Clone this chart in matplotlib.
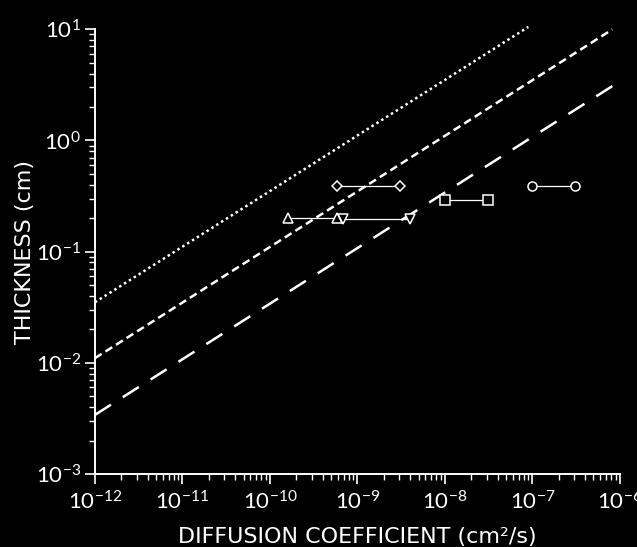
import matplotlib
matplotlib.use('Agg')
import matplotlib.pyplot as plt
import numpy as np
from matplotlib.ticker import LogLocator, NullFormatter, FuncFormatter

# ─── Datos ───────────────────────────────────────────────────────────────────
# rectas de penetracion  L = C * sqrt(D / 1e-12)
LINE_COEF  = [0.035, 0.011, 0.0034]
LINE_DEND  = [9.0e-8, 8.2e-7, 8.2e-7]
LINE_STYLE = [(0, (1, 1.3)), (0, (3.2, 1.8)), (0, (7.6, 5.6))]

# pares medidos (D_min, D_max, espesor, marcador)
PAIR_DLO   = [5.9e-10, 1.0e-7, 1.0e-8, 1.6e-10, 6.9e-10]
PAIR_DHI   = [3.1e-9,  3.1e-7, 3.1e-8, 5.9e-10, 4.0e-9]
PAIR_THICK = [0.39,    0.39,   0.29,   0.20,    0.195]
PAIR_MARK  = ['D',     'o',    's',    '^',     'v']

FG = 'white'
BG = 'black'

plt.rcParams['mathtext.fontset'] = 'custom'
plt.rcParams['mathtext.rm'] = 'Lato'
plt.rcParams['mathtext.it'] = 'Lato'
plt.rcParams['mathtext.bf'] = 'Lato'

fig = plt.figure(figsize=(6.37, 5.47), dpi=100, facecolor=BG)
ax = fig.add_axes([0.149, 0.1335, 0.824, 0.813], facecolor=BG)
ax.set_xscale('log')
ax.set_yscale('log')
ax.set_xlim(1e-12, 1e-6)
ax.set_ylim(1e-3, 1e1)

# ── rectas ───────────────────────────────────────────────────────────────────
for c, dend, ls in zip(LINE_COEF, LINE_DEND, LINE_STYLE):
    d = np.logspace(-12, np.log10(dend), 200)
    ax.plot(d, c * np.sqrt(d / 1e-12), color=FG, lw=1.8, linestyle=ls,
            dash_capstyle='butt', clip_on=False)

# ── pares de puntos ──────────────────────────────────────────────────────────
for lo, hi, t, m in zip(PAIR_DLO, PAIR_DHI, PAIR_THICK, PAIR_MARK):
    ms = 5.5 if m == 'D' else 6.5
    ax.plot([lo, hi], [t, t], color=FG, lw=0.9, marker=m, ms=ms,
            mfc=BG, mec=FG, mew=1.1)

# ── ejes ─────────────────────────────────────────────────────────────────────
for s in ('top', 'right'):
    ax.spines[s].set_visible(False)
for s in ('left', 'bottom'):
    ax.spines[s].set_color(FG)
    ax.spines[s].set_linewidth(1.4)

ax.xaxis.set_major_locator(LogLocator(base=10, numticks=10))
ax.yaxis.set_major_locator(LogLocator(base=10, numticks=10))
ax.xaxis.set_minor_locator(LogLocator(base=10, subs=np.arange(2, 10), numticks=20))
ax.yaxis.set_minor_locator(LogLocator(base=10, subs=np.arange(2, 10), numticks=20))
ax.xaxis.set_minor_formatter(NullFormatter())
ax.yaxis.set_minor_formatter(NullFormatter())

fmt = FuncFormatter(lambda v, p: r'$10^{%d}$' % round(np.log10(v)))
ax.xaxis.set_major_formatter(fmt)
ax.yaxis.set_major_formatter(fmt)

ax.tick_params(which='major', direction='out', length=7, width=1.2,
               color=FG, labelcolor=FG, labelsize=16)
ax.tick_params(which='minor', direction='out', length=4, width=1.0, color=FG)
ax.tick_params(axis='x', which='major', pad=5)
ax.tick_params(axis='y', which='major', pad=3)

ax.set_xlabel('DIFFUSION COEFFICIENT (cm\u00b2/s)', color=FG, fontsize=16)
ax.set_ylabel('THICKNESS (cm)', color=FG, fontsize=16)
ax.xaxis.set_label_coords(0.5, -0.12)
ax.yaxis.set_label_coords(-0.115, 0.5)

fig.savefig('out.png', dpi=100, facecolor=BG)
